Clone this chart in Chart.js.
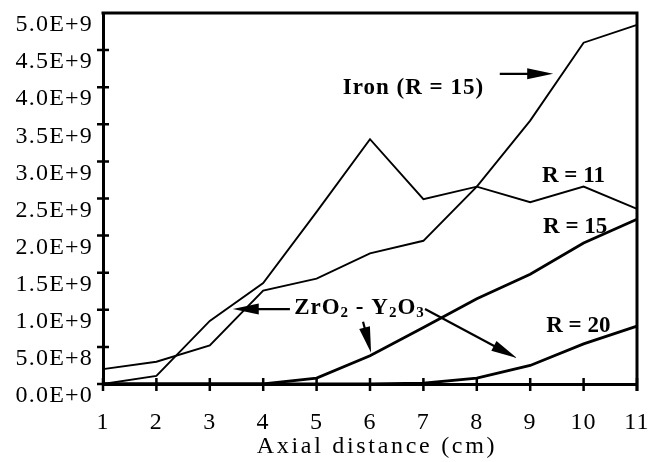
<!DOCTYPE html>
<html>
<head>
<meta charset="utf-8">
<script src="https://cdn.jsdelivr.net/npm/chart.js@4.4.1/dist/chart.umd.min.js"></script>
<style>
  html, body { margin: 0; padding: 0; background: #fff; }
  #wrap { width: 665px; height: 462px; }
</style>
</head>
<body>
<div id="wrap"><canvas id="grafico"></canvas></div>
<script>
// axial distance (cm)
var axial = ['1', '2', '3', '4', '5', '6', '7', '8', '9', '10', '11'];

var iron15 = [0.20e9, 0.30e9, 0.52e9, 1.26e9, 1.42e9, 1.76e9, 1.93e9, 2.66e9, 3.55e9, 4.60e9, 4.84e9];
var zr11   = [0.00e9, 0.11e9, 0.85e9, 1.36e9, 2.32e9, 3.30e9, 2.49e9, 2.66e9, 2.45e9, 2.66e9, 2.36e9];
var zr15   = [0.00e9, 0.00e9, 0.00e9, 0.00e9, 0.08e9, 0.38e9, 0.76e9, 1.15e9, 1.48e9, 1.90e9, 2.22e9];
var zr20   = [0.00e9, 0.00e9, 0.00e9, 0.00e9, 0.00e9, 0.00e9, 0.01e9, 0.08e9, 0.25e9, 0.54e9, 0.78e9];

var yLabels = ['0.0E+0', '5.0E+8', '1.0E+9', '1.5E+9', '2.0E+9', '2.5E+9',
               '3.0E+9', '3.5E+9', '4.0E+9', '4.5E+9', '5.0E+9'];

// text notes, placed in axis units (cm, value)
var notes = [
  { text: 'Iron (R = 15)', x: 5.49, y: 3.91e9, spacing: 1 },
  { text: 'R = 11', x: 9.22, y: 2.72e9, spacing: 0 },
  { text: 'R = 15', x: 9.24, y: 2.04e9, spacing: 0 },
  { text: 'R = 20', x: 9.30, y: 0.70e9, spacing: 0 }
];
// ZrO2 - Y2O3, pieces flagged true are subscripts
var oxide = { x: 4.58, y: 0.94e9, parts: [['ZrO', false], ['2', true], [' - Y', false], ['2', true], ['O', false], ['3', true]] };

var arrows = [
  { from: [8.43, 4.18e9], to: [9.43, 4.18e9] },
  { from: [4.50, 1.01e9], to: [3.43, 1.01e9] },
  { from: [5.87, 0.84e9], to: [6.02, 0.42e9] },
  { from: [7.03, 1.01e9], to: [8.75, 0.35e9] }
];

function arrow(ctx, x1, y1, x2, y2) {
  var a = Math.atan2(y2 - y1, x2 - x1), len = 26, half = 5.5;
  var bx = x2 - len * Math.cos(a), by = y2 - len * Math.sin(a);
  ctx.beginPath();
  ctx.moveTo(x1, y1);
  ctx.lineTo(bx + 4 * Math.cos(a), by + 4 * Math.sin(a));
  ctx.stroke();
  ctx.beginPath();
  ctx.moveTo(x2, y2);
  ctx.lineTo(bx + half * Math.sin(a), by - half * Math.cos(a));
  ctx.lineTo(bx - half * Math.sin(a), by + half * Math.cos(a));
  ctx.closePath();
  ctx.fill();
}

var extras = {
  id: 'extras',
  afterLayout: function(chart) {
    // wider spacing for the x axis title only, nudged a little right
    var xs = chart.scales.x;
    if (!xs._spaced) {
      var orig = xs.drawTitle;
      xs.drawTitle = function() {
        var c = this.ctx;
        c.save();
        c.letterSpacing = '2.7px';
        c.translate(7, 0);
        orig.apply(this, arguments);
        c.restore();
      };
      xs._spaced = true;
    }
  },
  beforeDraw: function(chart) {
    chart.ctx.letterSpacing = '1.2px';
  },
  afterDatasetsDraw: function(chart) {
    var ctx = chart.ctx, xs = chart.scales.x, ys = chart.scales.y, area = chart.chartArea;
    ctx.save();
    ctx.strokeStyle = '#000';
    ctx.fillStyle = '#000';

    // top and right frame
    ctx.lineWidth = 3;
    ctx.beginPath();
    ctx.moveTo(area.left - 1.5, area.top);
    ctx.lineTo(area.right, area.top);
    ctx.lineTo(area.right, area.bottom + 7);
    ctx.stroke();

    // tick marks crossing the axes
    ctx.lineWidth = 2.5;
    ctx.beginPath();
    ys.ticks.forEach(function(t, i) {
      var py = ys.getPixelForTick(i);
      if (i === ys.ticks.length - 1) return;
      ctx.moveTo(area.left - 6, py);
      ctx.lineTo(area.left + 6, py);
    });
    xs.ticks.forEach(function(t, i) {
      var px = xs.getPixelForTick(i);
      ctx.moveTo(px, area.bottom - 6);
      ctx.lineTo(px, area.bottom + 7);
    });
    ctx.stroke();

    // notes
    ctx.font = 'bold 23px "Liberation Serif"';
    ctx.textBaseline = 'alphabetic';
    ctx.textAlign = 'left';
    notes.forEach(function(n) {
      ctx.letterSpacing = n.spacing + 'px';
      ctx.fillText(n.text, xs.getPixelForValue(n.x - 1), ys.getPixelForValue(n.y));
    });

    var ox = xs.getPixelForValue(oxide.x - 1), oy = ys.getPixelForValue(oxide.y);
    ctx.letterSpacing = '1px';
    oxide.parts.forEach(function(p) {
      ctx.font = p[1] ? 'bold 15px "Liberation Serif"' : 'bold 23px "Liberation Serif"';
      ctx.fillText(p[0], ox, oy + (p[1] ? 3 : 0));
      ox += ctx.measureText(p[0]).width;
    });

    ctx.lineWidth = 2.2;
    arrows.forEach(function(a) {
      arrow(ctx,
        xs.getPixelForValue(a.from[0] - 1), ys.getPixelForValue(a.from[1]),
        xs.getPixelForValue(a.to[0] - 1), ys.getPixelForValue(a.to[1]));
    });
    ctx.restore();
  }
};

var serif = { family: '"Liberation Serif", "Times New Roman", serif', size: 24 };

new Chart(document.getElementById('grafico'), {
  type: 'line',
  data: {
    labels: axial,
    datasets: [
      { label: 'Iron (R = 15)', data: iron15, borderColor: '#000', borderWidth: 1.9 },
      { label: 'ZrO2-Y2O3 (R = 11)', data: zr11, borderColor: '#000', borderWidth: 1.9 },
      { label: 'ZrO2-Y2O3 (R = 15)', data: zr15, borderColor: '#000', borderWidth: 2.8 },
      { label: 'ZrO2-Y2O3 (R = 20)', data: zr20, borderColor: '#000', borderWidth: 2.8 }
    ]
  },
  options: {
    responsive: true,
    maintainAspectRatio: false,
    animation: false,
    layout: { padding: { top: 13, right: 28, left: 0, bottom: 0 } },
    elements: { point: { radius: 0 }, line: { tension: 0, fill: false } },
    plugins: { legend: { display: false }, tooltip: { enabled: false } },
    scales: {
      x: {
        grid: { display: false, drawTicks: false },
        border: { color: '#000', width: 3 },
        ticks: { font: serif, color: '#000', padding: 24, maxRotation: 0 },
        title: { display: true, text: 'Axial distance (cm)', color: '#000',
                 font: { family: serif.family, size: 24 }, padding: { top: 0, bottom: 1 } },
        afterFit: function(s) { s.height = 78; s.paddingLeft = 0; s.paddingRight = 0; }
      },
      y: {
        min: 0,
        max: 5e9,
        grid: { display: false, drawTicks: false },
        border: { color: '#000', width: 3 },
        ticks: { stepSize: 5e8, font: serif, color: '#000', padding: 10, labelOffset: 12,
                 callback: function(v, i) { return yLabels[i]; } },
        afterFit: function(s) { s.width = 103; s.paddingTop = 0; s.paddingBottom = 0; }
      }
    }
  },
  plugins: [extras]
});
</script>
</body>
</html>
